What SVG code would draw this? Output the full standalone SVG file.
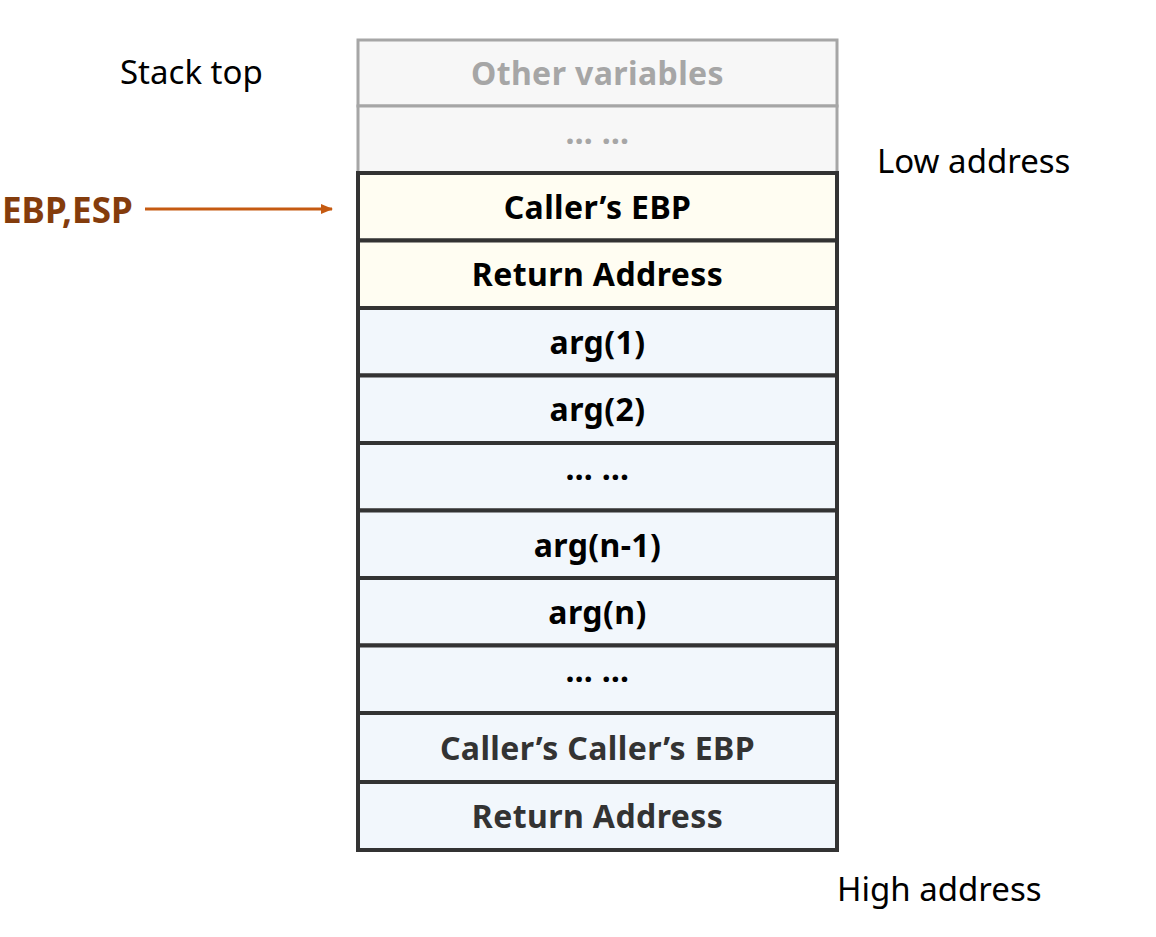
<svg xmlns="http://www.w3.org/2000/svg" width="1156" height="937" viewBox="0 0 1156 937">
<defs>
<style>
.lbl{font-family:"Noto Sans","Open Sans","Liberation Sans",sans-serif;font-size:33px;fill:#000}
.cell{font-family:"Noto Sans","Open Sans","Liberation Sans",sans-serif;font-size:32px;font-weight:700;letter-spacing:0.4px;text-anchor:middle;fill:#000}
.g{stroke:#a6a6a6;stroke-width:3;fill:#f7f7f7}
.y{stroke:#333;stroke-width:4;fill:#fffdf2}
.b{stroke:#333;stroke-width:4;fill:#f2f7fc}
</style>
<marker id="ah" markerWidth="12" markerHeight="10" refX="11" refY="5" orient="auto" markerUnits="userSpaceOnUse">
<path d="M0,0 L12,5 L0,10 Z" fill="#c55a11"/>
</marker>
</defs>
<rect width="1156" height="937" fill="#fff"/>
<g id="labels">
<text class="lbl" x="120" y="84">Stack top</text>
<text class="lbl" x="877" y="173">Low address</text>
<text class="lbl" x="837" y="901">High address</text>
<text x="2" y="223" style="font-family:'Noto Sans','Open Sans','Liberation Sans',sans-serif;font-size:35px;font-weight:700;fill:#843c0c">EBP,ESP</text>
</g>
<g id="connectors">
<line x1="145" y1="209" x2="332" y2="209" stroke="#c55a11" stroke-width="3" marker-end="url(#ah)"/>
</g>
<g id="n1"><rect class="g" x="358" y="40" width="479" height="66"/><text class="cell" x="597.5" y="85" style="fill:#a6a6a6">Other variables</text></g>
<g id="n2"><rect class="g" x="358" y="106" width="479" height="67"/><text class="cell" x="597.5" y="144" style="fill:#a6a6a6">… …</text></g>
<g id="n3"><rect class="y" x="358" y="173" width="479" height="67.5"/><text class="cell" x="597.5" y="219">Caller’s EBP</text></g>
<g id="n4"><rect class="y" x="358" y="240.5" width="479" height="67.5"/><text class="cell" x="597.5" y="286">Return Address</text></g>
<g id="n5"><rect class="b" x="358" y="308" width="479" height="67.5"/><text class="cell" x="597.5" y="354">arg(1)</text></g>
<g id="n6"><rect class="b" x="358" y="375.5" width="479" height="67.5"/><text class="cell" x="597.5" y="421">arg(2)</text></g>
<g id="n7"><rect class="b" x="358" y="443" width="479" height="67.5"/><text class="cell" x="597.5" y="480">… …</text></g>
<g id="n8"><rect class="b" x="358" y="510.5" width="479" height="67.5"/><text class="cell" x="597.5" y="557">arg(n-1)</text></g>
<g id="n9"><rect class="b" x="358" y="578" width="479" height="67.5"/><text class="cell" x="597.5" y="624">arg(n)</text></g>
<g id="n10"><rect class="b" x="358" y="645.5" width="479" height="67.5"/><text class="cell" x="597.5" y="682">… …</text></g>
<g id="n11"><rect class="b" x="358" y="713" width="479" height="69"/><text class="cell" x="597.5" y="760" style="fill:#333">Caller’s Caller’s EBP</text></g>
<g id="n12"><rect class="b" x="358" y="782" width="479" height="68"/><text class="cell" x="597.5" y="828" style="fill:#333">Return Address</text></g>
</svg>
